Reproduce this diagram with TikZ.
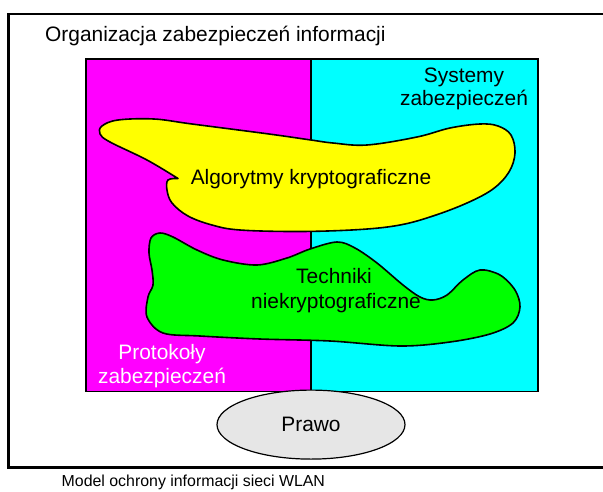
\documentclass[tikz,border=0pt]{standalone}
\usepackage{fontspec}
\setmainfont{Liberation Sans}
\usetikzlibrary{shapes.geometric}
\definecolor{protofill}{RGB}{255,0,255}
\definecolor{sysfill}{RGB}{0,255,255}
\definecolor{algfill}{RGB}{255,255,0}
\definecolor{techfill}{RGB}{0,255,0}
\definecolor{lawfill}{RGB}{230,230,230}
\begin{document}
\begin{tikzpicture}[x=1pt,y=-1pt,
  lbl/.style={inner sep=0pt, font=\fontsize{20.9}{25}\selectfont},
  caption/.style={inner sep=0pt, font=\fontsize{15.9}{19}\selectfont},
  frameline/.style={line width=2.8pt},
  boxline/.style={line width=1.7pt},
  blobline/.style={line width=1.6pt, line join=round},
  lawnode/.style={ellipse, draw, line width=1.2pt, fill=lawfill,
    minimum width=188pt, minimum height=69pt, inner sep=0pt,
    font=\fontsize{20.9}{25}\selectfont}]
\useasboundingbox (0,0) rectangle (603,491);
\fill[white] (0,0) rectangle (603,491);

% outer frame (runs past the right edge)
\draw[frameline] (620,14) -- (8.7,14) -- (8.7,467.5) -- (620,467.5);

% two coloured halves
\fill[protofill] (86,59) rectangle (311,391.5);
\fill[sysfill] (311,59) rectangle (538.3,391.5);
\draw[boxline] (86,59) rectangle (538.3,391.5);
\draw[boxline] (311,59) -- (311,391.5);

% cryptographic algorithms blob
\filldraw[algfill, draw=black, blobline]
  plot[smooth, tension=0.6] coordinates {
    (178,178.5) (168,180) (167,190) (172,203) (188,216) (212,225)
    (240,230) (300,231.5) (360,229.5) (400,225) (433,216) (467,203)
    (493,189) (509,172) (515,153) (511,135) (498,126) (480,124)
    (450,128) (417,137) (367,145) (333,143) (311,140) (269,134)
    (192,124) (154,119) (118,120) (102,126) (100,134) (110,142)
    (147,160) (178,178.5)} -- cycle;

% non-cryptographic techniques blob
\filldraw[techfill, draw=black, blobline]
  plot[smooth cycle, tension=0.55] coordinates {
    (151,238) (160,233) (173,237) (197,250) (223,260) (257,265)
    (287,258) (310,249) (337,242) (355,248) (377,263) (403,285)
    (420,297) (433,300) (447,295) (463,280) (480,270) (500,275)
    (515,290) (520,307) (513,323) (490,334) (450,342) (400,346)
    (330,341) (260,339) (200,336) (163,333) (147,317) (148,297)
    (153,285) (152,270) (149,253)};

% labels
\node[lbl, anchor=base west] (title) at (45,41.7) {Organizacja zabezpieczeń informacji};
\node[lbl, anchor=base] (sys1) at (464,82) {Systemy};
\node[lbl, anchor=base] (sys2) at (464,105) {zabezpieczeń};
\node[lbl, anchor=base] (alg) at (311,184) {Algorytmy kryptograficzne};
\node[lbl, anchor=base] (tech1) at (334,283) {Techniki};
\node[lbl, anchor=base] (tech2) at (336,308) {niekryptograficzne};
\node[lbl, anchor=base, text=white] (proto1) at (162,359) {Protokoły};
\node[lbl, anchor=base, text=white] (proto2) at (162,383) {zabezpieczeń};

% law ellipse under the boxes
\node[lawnode] (prawo) at (311,424.6) {Prawo};

% caption
\node[caption, anchor=base west] (cap) at (61.5,486) {Model ochrony informacji sieci WLAN};
\end{tikzpicture}
\end{document}
